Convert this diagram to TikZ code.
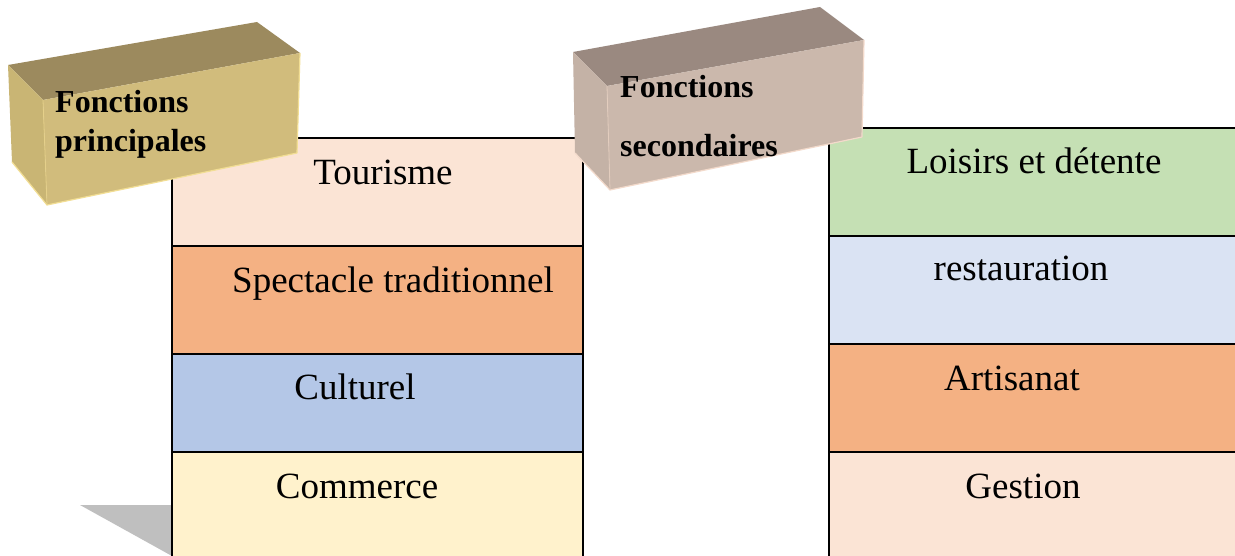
\documentclass[tikz,border=0pt]{standalone}
\usepackage{fontspec}
\setmainfont{Liberation Serif}
\definecolor{cTour}{HTML}{FBE4D5}
\definecolor{cSpec}{HTML}{F4B183}
\definecolor{cCult}{HTML}{B4C7E7}
\definecolor{cComm}{HTML}{FFF2CC}
\definecolor{cLois}{HTML}{C5E0B4}
\definecolor{cRest}{HTML}{DAE3F3}
\definecolor{cShadow}{HTML}{BFBFBF}
\definecolor{aTop}{HTML}{9C8A5E}
\definecolor{aLeft}{HTML}{C9B574}
\definecolor{aFront}{HTML}{D1BC7C}
\definecolor{aHi}{HTML}{F2DE94}
\definecolor{bTop}{HTML}{9A8980}
\definecolor{bLeft}{HTML}{C4B2A6}
\definecolor{bFront}{HTML}{CBB8AC}
\definecolor{bHi}{HTML}{F3DACB}
\begin{document}
\begin{tikzpicture}[x=1pt,y=-1pt,
  rowbox/.style={draw=black, line width=1.6pt, anchor=north west, minimum width=411pt, inner sep=0pt, outer sep=0pt},
  lbl/.style={font=\fontsize{37}{44}\selectfont, anchor=base, inner sep=0pt},
  blbl/.style={font=\fontsize{32}{38}\selectfont\bfseries, anchor=base west, inner sep=0pt},
  hiline/.style={line width=1.2pt, line join=round}]
\clip (0,0) rectangle (1235,556);
\fill[white] (0,0) rectangle (1235,556);
% shadow
\fill[cShadow] (80,505) -- (172,505) -- (172,556) -- cycle;
% left column
\node[rowbox, fill=cTour, minimum height=108pt] (r1) at (172,138) {};
\node[rowbox, fill=cSpec, minimum height=108pt] (r2) at (172,246) {};
\node[rowbox, fill=cCult, minimum height=98pt] (r3) at (172,354) {};
\node[rowbox, fill=cComm, minimum height=112pt] (r4) at (172,452) {};
% right column
\node[rowbox, fill=cLois, minimum height=108pt] (s1) at (829,128) {};
\node[rowbox, fill=cRest, minimum height=108pt] (s2) at (829,236) {};
\node[rowbox, fill=cSpec, minimum height=108pt] (s3) at (829,344) {};
\node[rowbox, fill=cTour, minimum height=112pt] (s4) at (829,452) {};
% labels
\node[lbl] (t1) at (383,185) {Tourisme};
\node[lbl] (t2) at (393,293) {Spectacle traditionnel};
\node[lbl] (t3) at (355,399) {Culturel};
\node[lbl] (t4) at (357,498) {Commerce};
\node[lbl] (u1) at (1034,174) {Loisirs et détente};
\node[lbl] (u2) at (1021,281) {restauration};
\node[lbl] (u3) at (1012,390) {Artisanat};
\node[lbl] (u4) at (1023,498) {Gestion};
% box 1
\fill[aTop] (8,65) -- (257,22) -- (300,53) -- (43,100) -- cycle;
\fill[aLeft] (8,65) -- (43,100) -- (47,205) -- (12,162) -- cycle;
\fill[aFront] (43,100) -- (300,53) -- (297,153) -- (47,205) -- cycle;
\draw[aHi, hiline] (12,162) -- (47,205) -- (297,153) -- (300,53);
\draw[aHi!60!aFront, line width=0.8pt] (43,100) -- (47,205);
\node[blbl] (p1) at (55,113) {Fonctions};
\node[blbl] (p2) at (55,152) {principales};
% box 2
\fill[bTop] (573,52) -- (820,7) -- (864,40) -- (607,86) -- cycle;
\fill[bLeft] (573,52) -- (607,86) -- (610,190) -- (575,153) -- cycle;
\fill[bFront] (607,86) -- (864,40) -- (862,137) -- (610,190) -- cycle;
\draw[bHi, hiline] (575,153) -- (610,190) -- (862,137) -- (864,40);
\draw[bHi!60!bFront, line width=0.8pt] (607,86) -- (610,190);
\node[blbl] (q1) at (620,98) {Fonctions};
\node[blbl] (q2) at (620,157) {secondaires};
\end{tikzpicture}
\end{document}
